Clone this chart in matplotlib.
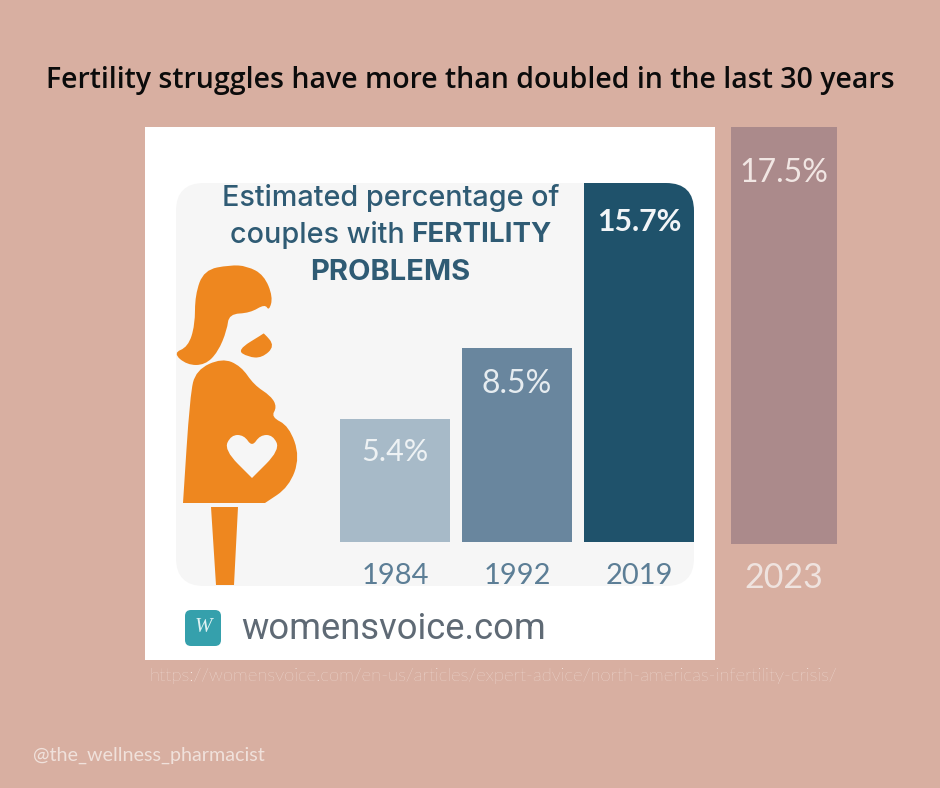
import matplotlib
matplotlib.use("Agg")
import matplotlib.pyplot as plt
import numpy as np
from matplotlib.patches import Rectangle, FancyBboxPatch, PathPatch
from matplotlib.path import Path

years = ["1984", "1992", "2019"]
percent = [5.4, 8.5, 15.7]
bar_colors = ["#A7BAC8", "#69869E", "#1F526B"]
new_year = ["2023"]
new_percent = [17.5]

W, H = 940, 788
BG = "#D8AFA1"
NAVY = "#2F5B74"
ORANGE = "#EE871F"


def px_axes(fig, left, top, right, bottom):
    # axes placed by pixel box of the 940x788 canvas
    return fig.add_axes([left / W, 1 - bottom / H, (right - left) / W, (bottom - top) / H])


def blob(pts):
    # closed smooth shape, quadratic curves through the midpoints
    pts = np.array(pts, dtype=float)
    mids = (pts + np.roll(pts, -1, axis=0)) / 2
    verts = [mids[-1]]
    codes = [Path.MOVETO]
    for p, m in zip(pts, mids):
        verts += [p, m]
        codes += [Path.CURVE3, Path.CURVE3]
    return Path(verts, codes)


fig = plt.figure(figsize=(W / 100, H / 100), dpi=100, facecolor=BG)

# canvas in pixel coordinates for the card, the figure and the texts
bg = fig.add_axes([0, 0, 1, 1])
bg.set_xlim(0, W)
bg.set_ylim(H, 0)
bg.axis("off")

bg.add_patch(Rectangle((145, 127), 570, 533, fc="white", ec="none"))
panel = FancyBboxPatch((176 + 28, 183 + 28), 518 - 56, 403 - 56, boxstyle="round,pad=28,rounding_size=28",
                       fc="#F6F6F6", ec="none")
bg.add_patch(panel)

# pregnant woman
hair = [(230, 265), (204, 270), (195, 295), (195, 325), (188, 347), (173, 353), (187, 365), (205, 365), (218, 352),
        (227, 330), (229, 314), (250, 313), (265, 304), (269, 311), (273, 297), (264, 275), (247, 266)]
chin = [(237, 350), (263, 334), (264, 333), (275, 346), (262, 358), (248, 357)]
body = [(183, 503), (183, 503), (190, 395), (196, 370), (222, 358), (241, 366), (254, 385), (271, 396), (277, 407),
        (271, 417), (289, 426), (300, 457), (289, 487), (265, 503), (265, 503)]
leg = [(211, 507), (238, 507), (234, 585), (216, 585)]
heart = [(252, 478), (252, 478), (224, 450), (231, 435), (244, 435), (252, 447), (260, 435), (273, 435), (280, 450)]
for shape in (hair, chin, body):
    bg.add_patch(PathPatch(blob(shape), fc=ORANGE, ec="none"))
bg.fill(*zip(*leg), fc=ORANGE, ec="none")
bg.add_patch(PathPatch(blob(heart), fc="#F6F6F6", ec="none"))

# logo
bg.add_patch(FancyBboxPatch((189, 614), 28, 28, boxstyle="round,pad=4,rounding_size=6", fc="#35A0AC", ec="none"))
bg.text(203, 628, "W", color="#DDF1F2", fontsize=15, family="Liberation Serif", ha="center", va="center",
        style="italic")
bg.text(241, 629, "womensvoice.com", color="#5F6A75", fontsize=26.2, family="Roboto", ha="left", va="center")

bg.text(470, 80, "Fertility struggles have more than doubled in the last 30 years", color="#0B0B0B", fontsize=20.5,
        family="Open Sans", weight="semibold", ha="center", va="center")
bg.text(391, 198, "Estimated percentage of", color=NAVY, fontsize=20.7, family="Inter", weight="medium",
        ha="center", va="center")
bg.text(230, 235, "couples with", color=NAVY, fontsize=20.7, family="Inter", weight="medium", ha="left", va="center")
bg.text(411, 235, "FERTILITY", color=NAVY, fontsize=20, family="Inter", weight="bold", ha="left", va="center")
bg.text(390, 272, "PROBLEMS", color=NAVY, fontsize=21, family="Inter", weight="bold", ha="center", va="center")

bg.text(493, 676, "https://womensvoice.com/en-us/articles/expert-advice/north-americas-infertility-crisis/",
        color="#FBF3EF", fontsize=13.3, family="Lato", weight="light", ha="center", va="center")
bg.text(33, 755, "@the_wellness_pharmacist", color="#F0E1DB", fontsize=14.2, family="Lato", ha="left", va="center")

# bars from the article
ax = px_axes(fig, 340, 183, 694, 542)
ax.patch.set_alpha(0)
x = np.arange(len(years))
bars = ax.bar(x, percent, width=0.9, color=bar_colors)
ax.set_xlim(-0.45, len(years) - 1 + 0.45)
ax.set_ylim(0, max(percent))
ax.set_xticks(x, years)
ax.set_yticks([])
ax.tick_params(axis="x", length=0, pad=15, labelsize=21, labelcolor="#5C7E96")
for label in ax.get_xticklabels():
    label.set_family("Lato")
for s in ax.spines.values():
    s.set_visible(False)
for b in bars:
    # top right corner of the last bar follows the rounded panel
    b.set_clip_path(FancyBboxPatch((176 + 28, 183 + 28), 518 - 56, 403 - 56, boxstyle="round,pad=28,rounding_size=28",
                                   transform=bg.transData))
ax.text(x[0], percent[0] - 1.45, "5.4%", color="#EEF2F4", fontsize=22, family="Lato", ha="center", va="center")
ax.text(x[1], percent[1] - 1.6, "8.5%", color="#E6ECF0", fontsize=23, family="Lato", ha="center", va="center")
ax.text(x[2], percent[2] - 1.72, "15.7%", color="#F2F5F7", fontsize=21.8, family="Lato", weight="bold",
        ha="center", va="center")

# added 2023 bar
ax2 = px_axes(fig, 731, 127, 837, 544)
ax2.patch.set_alpha(0)
ax2.bar(new_year, new_percent, width=1, color="#AB8A8B")
ax2.set_xlim(-0.5, 0.5)
ax2.set_ylim(0, new_percent[0])
ax2.set_yticks([])
ax2.tick_params(axis="x", length=0, pad=13, labelsize=24.5, labelcolor="#EFE3DF")
for label in ax2.get_xticklabels():
    label.set_family("Lato")
for s in ax2.spines.values():
    s.set_visible(False)
ax2.text(0, new_percent[0] - 1.95, "17.5%", color="#F1E6E3", fontsize=23, family="Lato", ha="center", va="center")

fig.savefig("out.png", dpi=100, facecolor=BG)
